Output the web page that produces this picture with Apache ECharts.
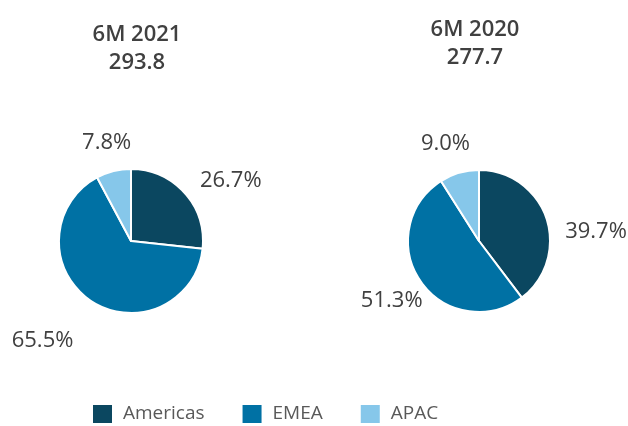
<!DOCTYPE html>
<html lang="en">
	<head>
		<meta charset="UTF-8">
		<title>Revenue by region</title>
		<style>
			html, body { margin: 0; padding: 0; background: #fff; }
			#chart { width: 628px; height: 426px; }
		</style>
	</head>
	<body>
		<div id="chart"></div>
	</body>
	<script src="https://cdn.jsdelivr.net/npm/echarts@6/dist/echarts.min.js"></script>
	<script>
		var regions = ['Americas', 'EMEA', 'APAC'];
		var colors = ['#0b4760', '#0071a4', '#86c7ea'];

		var periods = ['6M 2021', '6M 2020'];
		var totals = ['293.8', '277.7'];

		var share2021 = [26.7, 65.5, 7.8];
		var share2020 = [39.7, 51.3, 9.0];

		var chart = echarts.init(document.getElementById('chart'));

		// label nudges so the percentages sit where the original put them
		var nudge2021 = [[-10, 3], [4, 22], [32, -7]];
		var nudge2020 = [[-11, 20], [29, 7], [26, -8]];

		function buildPie(name, values, nudges, center, radius) {
			return {
				name: name,
				type: 'pie',
				center: center,
				radius: radius,
				startAngle: 90,
				clockwise: true,
				avoidLabelOverlap: false,
				itemStyle: { borderColor: '#fff', borderWidth: 2 },
				label: {
					show: true,
					position: 'outside',
					formatter: function (p) { return p.value.toFixed(1) + '%'; },
					color: '#404040',
					fontFamily: 'Open Sans',
					fontSize: 22
				},
				labelLine: { show: false, length: 22, length2: 4 },
				emphasis: { disabled: true },
				data: regions.map(function (r, i) {
					return { name: r, value: values[i], label: { offset: nudges[i] } };
				})
			};
		}

		var titleStyle = {
			color: '#404040',
			fontFamily: 'Open Sans',
			fontWeight: 600,
			fontSize: 22,
			lineHeight: 28
		};

		var option = {
			color: colors,
			animation: false,
			title: [
				{ text: periods[0] + '\n' + totals[0], left: 132, top: 16, textAlign: 'center', textStyle: titleStyle },
				{ text: periods[1] + '\n' + totals[1], left: 470, top: 11, textAlign: 'center', textStyle: titleStyle }
			],
			legend: {
				bottom: 1,
				left: 91,
				padding: 0,
				itemWidth: 21,
				itemHeight: 20,
				itemGap: 36,
				icon: 'rect',
				textStyle: { color: '#595959', fontFamily: 'Open Sans', fontSize: 19, padding: [0, 0, 0, 5] },
				data: regions
			},
			series: [
				buildPie(periods[0], share2021, nudge2021, [131, 241], 72),
				buildPie(periods[1], share2020, nudge2020, [479, 241], 71)
			]
		};

		chart.setOption(option);
	</script>
</html>
